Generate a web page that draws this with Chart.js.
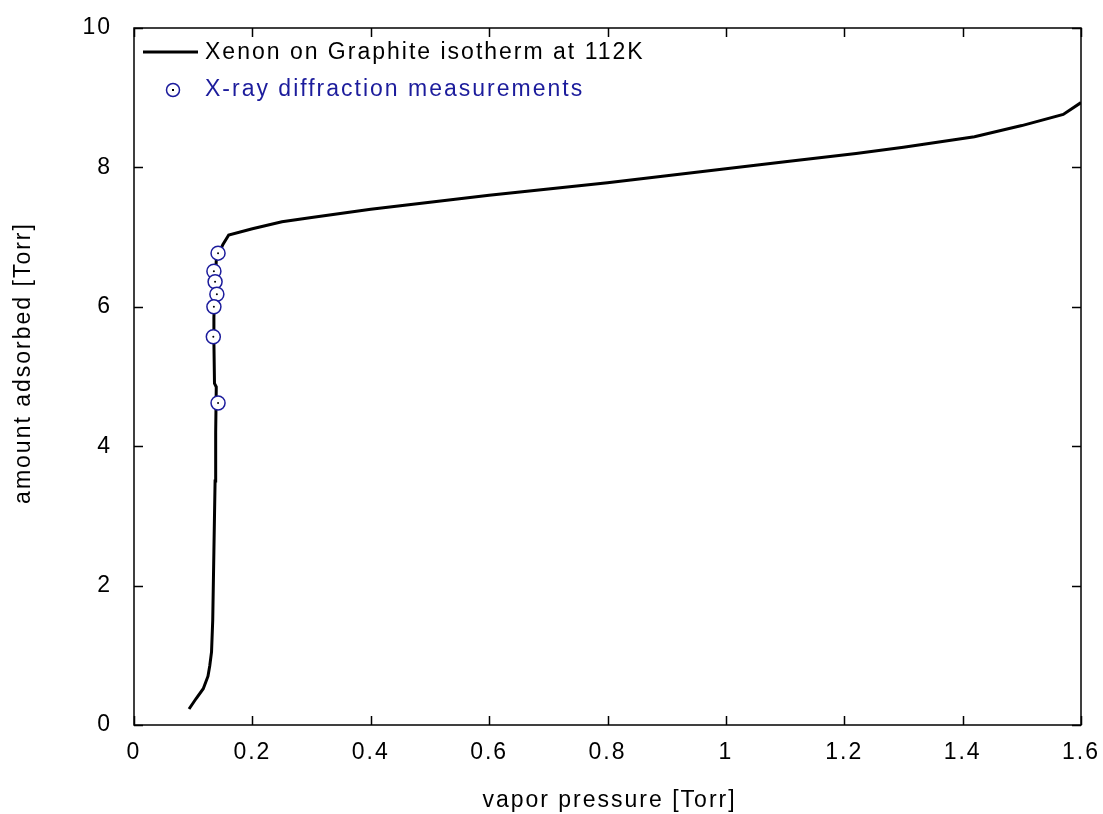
<!DOCTYPE html>
<html>
<head>
<meta charset="utf-8">
<script src="https://cdn.jsdelivr.net/npm/chart.js@4.4.1/dist/chart.umd.min.js"></script>
<style>
  html, body { margin: 0; padding: 0; background: #fff; }
  #wrap { width: 1103px; height: 814px; }
</style>
</head>
<body>
<div id="wrap"><canvas id="c" width="1103" height="814"></canvas></div>
<script>
// Isotherm curve (vapor pressure [Torr], amount adsorbed)
const curveX = [0.093, 0.105, 0.117, 0.125, 0.128, 0.131, 0.133, 0.135, 0.137, 0.138, 0.139, 0.136, 0.135, 0.135, 0.137, 0.139, 0.150, 0.160,
                0.20, 0.25, 0.30, 0.40, 0.50, 0.60, 0.70, 0.80, 0.90, 1.00, 1.10, 1.22, 1.30, 1.42, 1.50, 1.57, 1.60];
const curveY = [0.23, 0.38, 0.52, 0.70, 0.85, 1.05, 1.50, 2.50, 3.50, 4.20, 4.85, 4.90, 5.50, 5.85, 6.30, 6.67, 6.89, 7.03,
                7.12, 7.22, 7.28, 7.40, 7.50, 7.60, 7.69, 7.78, 7.88, 7.98, 8.08, 8.20, 8.29, 8.44, 8.60, 8.76, 8.93];

// X-ray diffraction measurements
const xrayX = [0.142, 0.135, 0.137, 0.140, 0.135, 0.134, 0.142];
const xrayY = [6.77, 6.51, 6.36, 6.18, 6.00, 5.57, 4.62];

const xTicks = [0, 0.2, 0.4, 0.6, 0.8, 1, 1.2, 1.4, 1.6];
const yTicks = [0, 2, 4, 6, 8, 10];

const curveLabel = 'Xenon on Graphite isotherm at 112K';
const xrayLabel = 'X-ray diffraction measurements';
const xTitle = 'vapor pressure [Torr]';
const yTitle = 'amount adsorbed [Torr]';

const FONT = "'Liberation Sans', Arial, sans-serif";
const FSIZE = 23;
const SPACING = '2px';
const BLUE = '#1c1c9c';

const toPts = (xs, ys) => xs.map((x, i) => ({ x: x, y: ys[i] }));

// wider text spacing, like the original rendering
const spacingPlugin = {
    id: 'spacing',
    beforeLayout(chart) { chart.ctx.letterSpacing = SPACING; },
    beforeDraw(chart) { chart.ctx.letterSpacing = SPACING; }
};

// inward ticks on all four sides, axis titles and legend
const framePlugin = {
    id: 'frame',
    afterDraw(chart) {
        const ctx = chart.ctx;
        const a = chart.chartArea;
        const xs = chart.scales.x, ys = chart.scales.y;
        const len = 9;
        ctx.save();
        ctx.letterSpacing = SPACING;
        ctx.strokeStyle = '#000';
        ctx.lineWidth = 1.5;
        ctx.strokeRect(a.left, a.top, a.right - a.left, a.bottom - a.top);
        ctx.beginPath();
        xTicks.forEach(v => {
            const p = Math.round(xs.getPixelForValue(v)) + 0.5;
            ctx.moveTo(p, a.bottom); ctx.lineTo(p, a.bottom - len);
            ctx.moveTo(p, a.top); ctx.lineTo(p, a.top + len);
        });
        yTicks.forEach(v => {
            const p = Math.round(ys.getPixelForValue(v)) + 0.5;
            ctx.moveTo(a.left, p); ctx.lineTo(a.left + len, p);
            ctx.moveTo(a.right, p); ctx.lineTo(a.right - len, p);
        });
        ctx.stroke();

        ctx.font = FSIZE + 'px ' + FONT;
        ctx.textBaseline = 'middle';
        ctx.fillStyle = '#000';

        // axis titles
        ctx.textAlign = 'center';
        ctx.fillText(xTitle, (a.left + a.right) / 2 + 2, 801);
        ctx.save();
        ctx.translate(24, 363);
        ctx.rotate(-Math.PI / 2);
        ctx.fillText(yTitle, 0, 0);
        ctx.restore();

        // legend
        ctx.textAlign = 'left';
        ctx.lineWidth = 3;
        ctx.beginPath();
        ctx.moveTo(a.left + 9, a.top + 24);
        ctx.lineTo(a.left + 64, a.top + 24);
        ctx.stroke();
        ctx.fillText(curveLabel, a.left + 71, a.top + 25);

        const cx = a.left + 39, cy = a.top + 62;
        ctx.strokeStyle = BLUE;
        ctx.lineWidth = 1.5;
        ctx.fillStyle = '#fff';
        ctx.beginPath();
        ctx.arc(cx, cy, 6.5, 0, Math.PI * 2);
        ctx.fill();
        ctx.stroke();
        ctx.fillStyle = '#000';
        ctx.fillRect(cx - 1, cy - 1, 2, 2);
        ctx.fillStyle = BLUE;
        ctx.fillText(xrayLabel, a.left + 71, a.top + 62);
        ctx.restore();
    }
};

new Chart(document.getElementById('c'), {
    type: 'scatter',
    data: {
        datasets: [
            {
                label: curveLabel,
                data: toPts(curveX, curveY),
                showLine: true,
                borderColor: '#000',
                borderWidth: 3,
                pointRadius: 0,
                tension: 0,
                order: 3
            },
            {
                label: xrayLabel,
                data: toPts(xrayX, xrayY),
                pointStyle: 'circle',
                pointRadius: 7,
                pointBorderWidth: 1.5,
                pointBorderColor: BLUE,
                pointBackgroundColor: '#fff',
                order: 2
            },
            {
                label: 'centres',
                data: toPts(xrayX, xrayY),
                pointRadius: 1,
                pointBorderWidth: 0,
                pointBackgroundColor: '#000',
                order: 1
            }
        ]
    },
    options: {
        responsive: false,
        animation: false,
        layout: { padding: { top: 28, right: 22, left: 0, bottom: 0 } },
        plugins: {
            legend: { display: false },
            tooltip: { enabled: false }
        },
        scales: {
            x: {
                type: 'linear',
                min: 0,
                max: 1.6,
                afterBuildTicks(s) { s.ticks = xTicks.map(v => ({ value: v })); },
                afterFit(s) { s.height = 89; s.paddingLeft = 0; s.paddingRight = 0; },
                grid: { display: false },
                border: { display: false },
                ticks: {
                    color: '#000',
                    padding: 6,
                    maxRotation: 0,
                    font: { family: FONT, size: FSIZE },
                    callback: v => String(Number(v.toFixed(1)))
                }
            },
            y: {
                type: 'linear',
                min: 0,
                max: 10,
                afterBuildTicks(s) { s.ticks = yTicks.map(v => ({ value: v })); },
                afterFit(s) { s.width = 134; s.paddingTop = 0; s.paddingBottom = 0; },
                grid: { display: false },
                border: { display: false },
                ticks: {
                    color: '#000',
                    padding: 14,
                    font: { family: FONT, size: FSIZE }
                }
            }
        }
    },
    plugins: [spacingPlugin, framePlugin]
});
</script>
</body>
</html>
